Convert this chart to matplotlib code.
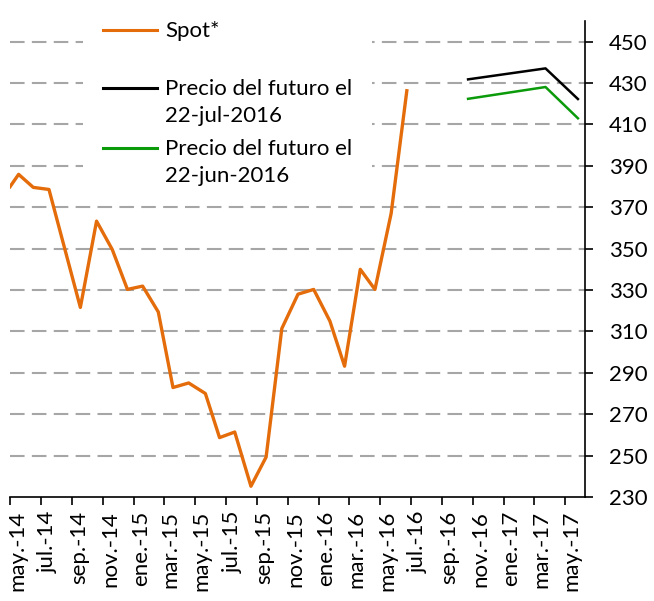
import matplotlib
matplotlib.use('Agg')
import matplotlib.pyplot as plt
from matplotlib.patches import Rectangle
from matplotlib.lines import Line2D
from matplotlib.transforms import ScaledTranslation
import pandas as pd

plt.rcParams['font.family'] = ['Lato', 'DejaVu Sans']

# Spot price (monthly, last point jun-2016)
spot_dates = ['2014-05-01', '2014-05-18', '2014-06-16', '2014-07-17', '2014-08-17',
              '2014-09-17', '2014-10-19', '2014-11-19', '2014-12-19', '2015-01-18',
              '2015-02-18', '2015-03-19', '2015-04-19', '2015-05-22', '2015-06-19',
              '2015-07-19', '2015-08-20', '2015-09-19', '2015-10-20', '2015-11-21',
              '2015-12-22', '2016-01-23', '2016-02-21', '2016-03-23', '2016-04-21',
              '2016-05-23', '2016-06-23']
spot_vals = [379.9, 385.9, 379.6, 378.6, 350.1,
             321.6, 363.3, 349.6, 330.3, 331.9,
             319.4, 282.9, 285.1, 280.0, 258.7,
             261.4, 235.2, 249.3, 311.4, 328.0,
             330.3, 315.0, 293.2, 340.0, 330.3,
             367.0, 426.3]

# futures curves
fut_dates = ['2016-10-22', '2017-03-24', '2017-05-27']
fut_jul = [431.8, 437.1, 422.3]
fut_jun = [422.4, 428.1, 413.0]

tick_dates = ['2014-05-01', '2014-07-01', '2014-09-01', '2014-11-01', '2015-01-01',
              '2015-03-01', '2015-05-01', '2015-07-01', '2015-09-01', '2015-11-01',
              '2016-01-01', '2016-03-01', '2016-05-01', '2016-07-01', '2016-09-01',
              '2016-11-01', '2017-01-01', '2017-03-01', '2017-05-01']
tick_labels = ['may.-14', 'jul.-14', 'sep.-14', 'nov.-14', 'ene.-15', 'mar.-15',
               'may.-15', 'jul.-15', 'sep.-15', 'nov.-15', 'ene.-16', 'mar.-16',
               'may.-16', 'jul.-16', 'sep.-16', 'nov.-16', 'ene.-17', 'mar.-17',
               'may.-17']

orange = '#E46C0A'
green = '#0A9A0A'
fs = 16

fig = plt.figure(figsize=(6.54, 6.01), dpi=100)
ax = fig.add_axes([10/654, 1 - 497/601, 575/654, 476/601])

ax.plot(pd.to_datetime(spot_dates), spot_vals, color=orange, lw=2.4, zorder=3)
ax.plot(pd.to_datetime(fut_dates), fut_jul, color='black', lw=1.8, zorder=3)
ax.plot(pd.to_datetime(fut_dates), fut_jun, color=green, lw=1.8, zorder=3)

ax.set_ylim(230, 460)
ax.set_xlim(pd.Timestamp('2014-05-01'), pd.Timestamp('2017-06-10'))
ax.set_yticks(range(230, 451, 20))

ax.yaxis.tick_right()
ax.tick_params(axis='y', direction='out', length=6, width=1.2, labelsize=fs, pad=11)
ax.tick_params(axis='x', direction='out', length=6, width=1.2, labelsize=fs, pad=4)
ax.set_xticks(pd.to_datetime(tick_dates))
ax.set_xticklabels(tick_labels, rotation=90, va='top', ha='center')
for lab in ax.get_xticklabels():
    lab.set_transform(lab.get_transform() + ScaledTranslation(0.07, 0, fig.dpi_scale_trans))

for s in ['left', 'top']:
    ax.spines[s].set_visible(False)
for s in ['right', 'bottom']:
    ax.spines[s].set_linewidth(1.2)

ax.set_axisbelow(True)
ax.yaxis.grid(True, color='#A6A6A6', linestyle=(0, (7, 3.5)), linewidth=1.5)
for gl in ax.get_ygridlines()[:1]:
    gl.set_visible(False)

# legend (white box hides the gridlines behind it)
ax.add_patch(Rectangle((73/575, (497-195)/476), 289/575, 0.4, transform=ax.transAxes,
                       facecolor='white', edgecolor='none', zorder=1, clip_on=False))
leg_rows = [(30, orange, 'Spot*'),
            (88, 'black', 'Precio del futuro el\n22-jul-2016'),
            (148, green, 'Precio del futuro el\n22-jun-2016')]
for ypx, col, txt in leg_rows:
    yf = (497 - ypx) / 476
    ax.add_line(Line2D([93/575, 147/575], [yf, yf], transform=ax.transAxes,
                       color=col, lw=2.2, clip_on=False, zorder=4))
    ax.text(155/575, yf + 9/476, txt, transform=ax.transAxes, fontsize=fs,
            va='top', ha='left', linespacing=1.45, zorder=4)

fig.savefig('out.png', dpi=100)
